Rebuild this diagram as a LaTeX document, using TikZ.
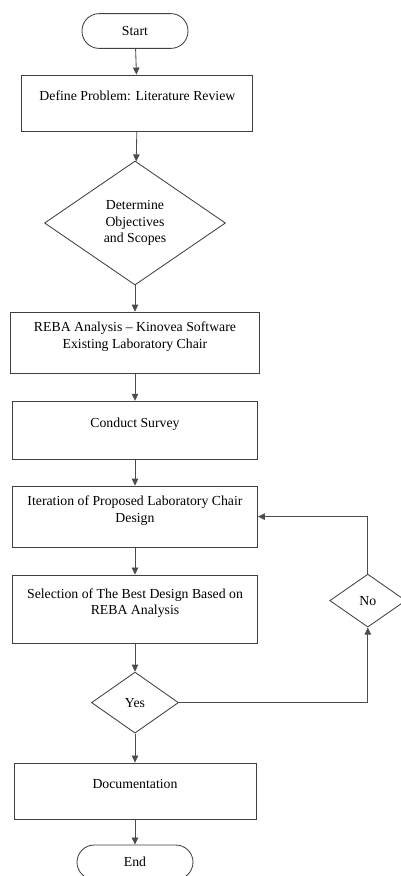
\documentclass[tikz,border=0pt]{standalone}
\usepackage{fontspec}
\setmainfont{Liberation Serif}
\usetikzlibrary{shapes,arrows,arrows.meta}
\tikzstyle{terminal} = [rectangle, draw=black!75, line width=0.6pt, rounded corners=0.43cm,
    minimum width=2.65cm, minimum height=0.87cm, inner sep=0pt]
\tikzstyle{process} = [rectangle, draw=black!75, line width=0.6pt, align=center,
    minimum width=6.125cm, minimum height=1.45cm, text depth=0.37cm, inner sep=0pt]
\tikzstyle{decision} = [diamond, draw=black!75, line width=0.6pt, align=center, inner sep=0pt]
\tikzstyle{flow} = [draw=black!70, line width=0.6pt, -{Triangle[length=5pt,width=4.6pt]}]

\begin{document}
\begin{tikzpicture}[node distance = 2.2cm, font=\fontsize{9.8}{12}\selectfont]
    \useasboundingbox (0,0) rectangle (10.025,-21.9);
    % Place nodes
    \node [terminal] (start) at (3.375,-0.775) {Start};
    \node [process, below of=start, node distance=1.8cm, xshift=0.06cm, minimum width=5.775cm, minimum height=1.4cm] (define) {Define Problem: Literature Review};
    \node [decision, below of=define, node distance=3cm, xshift=-0.06cm, minimum width=4.525cm, minimum height=3.1cm] (obj) {Determine\\ Objectives\\ and Scopes};
    \node [process, below of=obj, node distance=2.99cm, minimum width=6.225cm, minimum height=1.525cm] (reba) {REBA Analysis -- Kinovea Software\\ Existing Laboratory Chair};
    \node [process, below of=reba, node distance=2.19cm] (survey) {Conduct Survey};
    \node [process, below of=survey, node distance=2.16cm, minimum height=1.525cm] (iter) {Iteration of Proposed Laboratory Chair\\ Design};
    \node [process, below of=iter, node distance=2.31cm, minimum height=1.7cm] (select) {Selection of The Best Design Based on\\ REBA Analysis};
    \node [decision, below of=select, node distance=2.34cm, minimum width=2.175cm, minimum height=1.525cm] (yes) {Yes};
    \node [process, below of=yes, node distance=2.21cm, minimum width=6.05cm, minimum height=1.4cm] (doc) {Documentation};
    \node [terminal, below of=doc, node distance=1.78cm, minimum width=2.9cm, minimum height=0.86cm] (end) {End};
    \node [decision, right of=select, node distance=5.82cm, yshift=0.21cm, minimum width=1.9cm, minimum height=1.325cm] (no) {No};
    % Draw edges
    \path [flow] (start) -- (define);
    \path [flow] (define) -- (obj);
    \path [flow] (obj) -- (reba);
    \path [flow] (reba) -- (survey);
    \path [flow] (survey) -- (iter);
    \path [flow] (iter) -- (select);
    \path [flow] (select) -- (yes);
    \path [flow] (yes) -- (doc);
    \path [flow] (doc) -- (end);
    \path [flow] (yes.east) -| (no.south);
    \path [flow] (no.north) |- (iter.east);
\end{tikzpicture}
\end{document}
